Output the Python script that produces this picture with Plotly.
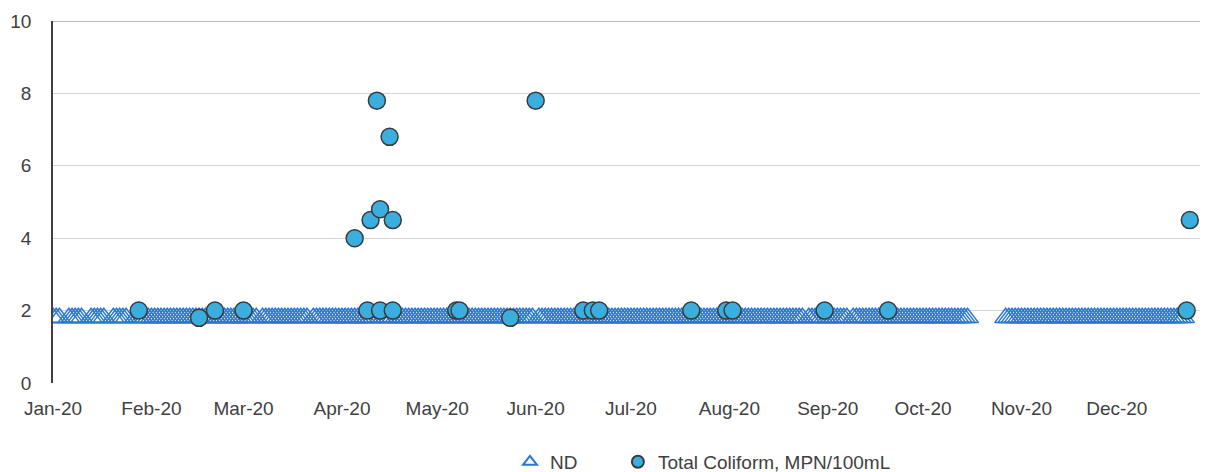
import pandas as pd
import plotly.graph_objects as go

# ---------------- data ----------------
# Non-detect samples (plotted at the detection limit)
ND_VALUE = 1.8
ND_RANGES = [
    ("2020-01-01", "2020-01-03"),
    ("2020-01-06", "2020-01-10"),
    ("2020-01-13", "2020-01-17"),
    ("2020-01-20", "2020-01-24"),
    ("2020-01-27", "2020-10-15"),
    ("2020-10-27", "2020-12-22"),
]
ND_SKIP = ["2020-03-06", "2020-03-22", "2020-04-12", "2020-06-01",
           "2020-08-25", "2020-09-08"]

# Detected Total Coliform samples
TC_DATES = ["2020-01-28", "2020-02-16", "2020-02-21", "2020-03-01",
            "2020-04-05", "2020-04-09", "2020-04-10", "2020-04-12",
            "2020-04-13", "2020-04-13", "2020-04-16", "2020-04-17",
            "2020-04-17", "2020-05-07", "2020-05-08", "2020-05-24",
            "2020-06-01", "2020-06-16", "2020-06-19", "2020-06-21",
            "2020-07-20", "2020-07-31", "2020-08-02", "2020-08-31",
            "2020-09-20", "2020-12-23", "2020-12-24"]
TC_VALUES = [2.0, 1.8, 2.0, 2.0,
             4.0, 2.0, 4.5, 7.8,
             4.8, 2.0, 6.8, 4.5,
             2.0, 2.0, 2.0, 1.8,
             7.8, 2.0, 2.0, 2.0,
             2.0, 2.0, 2.0, 2.0,
             2.0, 2.0, 4.5]

Y_TICKS = [0, 2, 4, 6, 8, 10]
X_RANGE = ["2020-01-01", "2020-12-27 05:00"]

# ---------------- build ----------------
skip = set(pd.to_datetime(ND_SKIP))
nd_dates = []
for a, b in ND_RANGES:
    for d in pd.date_range(a, b, freq="D"):
        if d not in skip:
            nd_dates.append(d)
nd_vals = [ND_VALUE] * len(nd_dates)

FONT = "Liberation Sans, Arial, sans-serif"
TXT = "#404040"
FS = 19

fig = go.Figure()
fig.add_trace(go.Scatter(
    x=nd_dates, y=nd_vals, mode="markers", name="ND", legend="legend",
    marker=dict(symbol="triangle-up-open", size=19,
                color="#2A78D4", line=dict(color="#2A78D4", width=1.5)),
))
fig.add_trace(go.Scatter(
    x=pd.to_datetime(TC_DATES), y=TC_VALUES, mode="markers",
    name="Total Coliform, MPN/100mL", legend="legend2",
    marker=dict(symbol="circle", size=17, color="#3AAEDF",
                line=dict(color="#3A3A3A", width=1.5)),
))

leg_common = dict(orientation="h", xanchor="left", y=-0.218,
                  yanchor="middle",
                  font=dict(family=FONT, size=FS, color=TXT),
                  itemsizing="constant", bgcolor="rgba(0,0,0,0)")

fig.update_layout(
    width=1201, height=464,
    margin=dict(l=45, r=9, t=13, b=89, autoexpand=False),
    paper_bgcolor="white", plot_bgcolor="white",
    font=dict(family=FONT, size=FS, color=TXT),
    showlegend=True,
    legend=dict(x=0.3984, **leg_common),
    legend2=dict(x=0.4925, **leg_common),
    shapes=[dict(type="line", xref="paper", yref="y", x0=0, x1=1,
                 y0=10, y1=10, line=dict(color="#7A7A7A", width=1.2))],
)
fig.update_xaxes(
    type="date", range=X_RANGE,
    tickformat="%b-%y", dtick="M1", tick0="2020-01-01",
    showgrid=False, zeroline=False, showline=False,
    ticks="", ticklabelstandoff=12,
    tickfont=dict(family=FONT, size=FS, color=TXT),
)
fig.update_yaxes(
    range=[0, 10], tickvals=Y_TICKS,
    showgrid=True, gridcolor="#D4D4D4", gridwidth=1,
    zeroline=False, showline=True, linecolor="#404040", linewidth=1.5,
    ticks="", ticklabelstandoff=16,
    tickfont=dict(family=FONT, size=FS, color=TXT),
)

fig.write_html("out.html")
